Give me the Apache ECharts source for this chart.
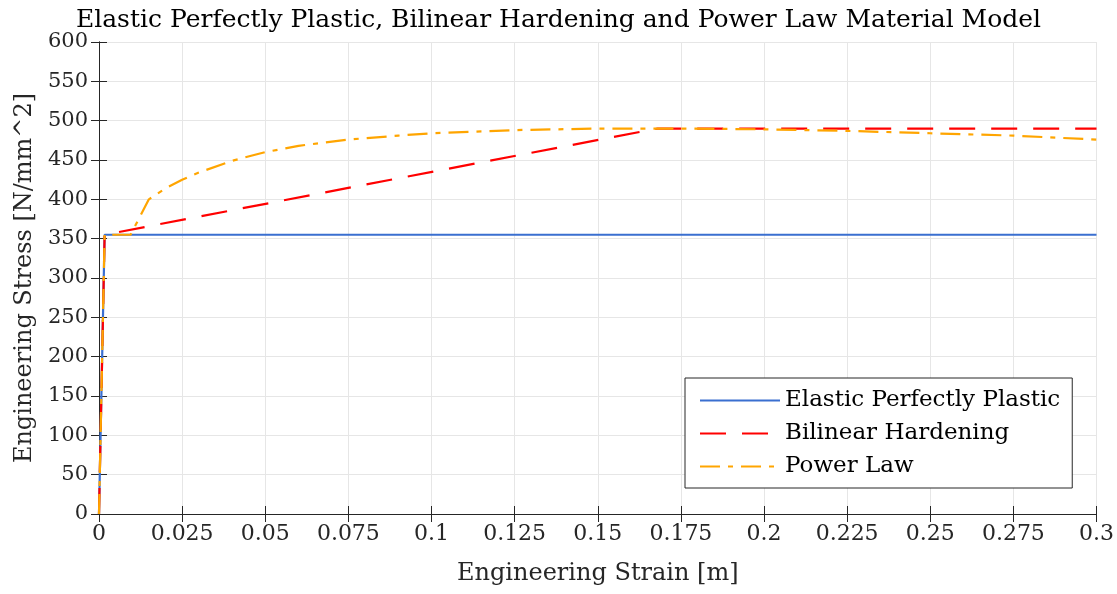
<!DOCTYPE html>
<html>
<head>
<meta charset="utf-8">
<script src="https://cdn.jsdelivr.net/npm/echarts@6/dist/echarts.min.js"></script>
<style>html,body{margin:0;padding:0;background:#fff;}#c{width:1117px;height:594px;}</style>
</head>
<body>
<div id="c"></div>
<script>
const titleText = 'Elastic Perfectly Plastic, Bilinear Hardening and Power Law Material Model';
const xName = 'Engineering Strain [m]';
const yName = 'Engineering Stress [N/mm^2]';
const seriesNames = ['Elastic Perfectly Plastic', 'Bilinear Hardening', 'Power Law'];

const eppStrain = [0, 0.00169, 0.3];
const eppStress = [0, 355, 355];

const bilStrain = [0, 0.00169, 0.168, 0.3];
const bilStress = [0, 355, 490, 490];

const plStrain = [0, 0.00169, 0.0095, 0.015, 0.02, 0.025, 0.03, 0.04, 0.05, 0.06, 0.075, 0.09, 0.1, 0.125, 0.15, 0.175, 0.2, 0.225, 0.25, 0.275, 0.3];
const plStress = [0, 355, 355, 400, 414, 425, 434, 449, 460, 468, 476, 481, 484, 488, 490, 490, 489, 487, 484, 481, 476];

const xTicks = [0, 0.025, 0.05, 0.075, 0.1, 0.125, 0.15, 0.175, 0.2, 0.225, 0.25, 0.275, 0.3];
const yTicks = [0, 50, 100, 150, 200, 250, 300, 350, 400, 450, 500, 550, 600];

const zip = (a, b) => a.map((v, i) => [v, b[i]]);
const FONT = 'DejaVu Serif';

const chart = echarts.init(document.getElementById('c'), null, {renderer: 'canvas'});
const fmtX = v => {
  const r = Math.round(v * 1000) / 1000;
  return String(r);
};
const baseAxisLine = {show: true, lineStyle: {color: '#262626', width: 1}};
const tick = {show: true, inside: true, length: 8, lineStyle: {color: '#262626'}};
chart.setOption({
  animation: false,
  backgroundColor: '#fff',
  title: {
    text: titleText, left: 'center', top: 3,
    textStyle: {fontFamily: FONT, fontSize: 25, fontWeight: 'normal', color: '#000'}
  },
  grid: {left: 99, right: 19, top: 42, bottom: 80, containLabel: false},
  legend: {
    left: 685, top: 378, orient: 'vertical',
    backgroundColor: '#fff', borderColor: '#262626', borderWidth: 1,
    padding: [9, 12, 8, 14], itemGap: 6, itemWidth: 80, itemHeight: 14,
    itemStyle: {opacity: 0},
    textStyle: {fontFamily: FONT, fontSize: 23, color: '#000', lineHeight: 27},
    data: seriesNames
  },
  xAxis: [{
    type: 'value', min: 0, max: 0.3, interval: 0.025,
    name: xName, nameLocation: 'middle', nameGap: 48,
    nameTextStyle: {fontFamily: FONT, fontSize: 24, color: '#262626'},
    axisLine: baseAxisLine, axisTick: tick,
    axisLabel: {fontFamily: FONT, fontSize: 22, color: '#262626', margin: 9, formatter: fmtX},
    splitLine: {show: true, lineStyle: {color: '#e6e6e6', width: 1}}
  }, {
    type: 'value', min: 0, max: 0.3, interval: 0.025, position: 'top',
    axisLine: baseAxisLine, axisTick: tick,
    axisLabel: {show: false}, splitLine: {show: false}
  }],
  yAxis: [{
    type: 'value', min: 0, max: 600, interval: 50,
    name: yName, nameLocation: 'middle', nameGap: 60,
    nameTextStyle: {fontFamily: FONT, fontSize: 24, color: '#262626'},
    axisLine: baseAxisLine, axisTick: tick,
    axisLabel: {fontFamily: FONT, fontSize: 21, color: '#262626', margin: 11},
    splitLine: {show: true, lineStyle: {color: '#e6e6e6', width: 1}}
  }, {
    type: 'value', min: 0, max: 600, interval: 50, position: 'right',
    axisLine: baseAxisLine, axisTick: tick,
    axisLabel: {show: false}, splitLine: {show: false}
  }],
  series: [{
    name: seriesNames[0], type: 'line', data: zip(eppStrain, eppStress),
    showSymbol: false, symbol: 'none', z: 3,
    lineStyle: {color: '#3a6fd0', width: 2.2, type: 'solid'},
    itemStyle: {color: '#3a6fd0'}
  }, {
    name: seriesNames[1], type: 'line', data: zip(bilStrain, bilStress),
    showSymbol: false, symbol: 'none', z: 4,
    lineStyle: {color: '#ff0000', width: 2.2, type: [26, 16]},
    itemStyle: {color: '#ff0000'}
  }, {
    name: seriesNames[2], type: 'line', data: zip(plStrain, plStress),
    showSymbol: false, symbol: 'none', z: 5, smooth: false,
    lineStyle: {color: '#ffa500', width: 2.2, type: [20, 8, 5, 8]},
    itemStyle: {color: '#ffa500'}
  }]
});
</script>
</body>
</html>
